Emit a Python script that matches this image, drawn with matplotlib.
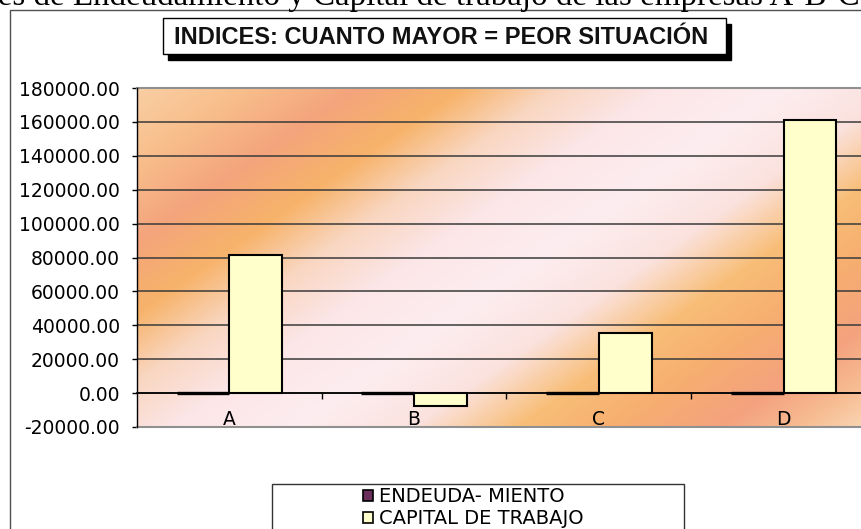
import numpy as np
import matplotlib
matplotlib.use("Agg")
import matplotlib.pyplot as plt
from matplotlib.patches import Rectangle, Patch
from matplotlib.colors import to_rgb

# ---- data ----
categories = ["A", "B", "C", "D"]
endeudamiento = [0.62, 1.35, 0.48, 0.91]
capital_trabajo = [81500, -7900, 35700, 161000]
series_labels = ["ENDEUDA- MIENTO", "CAPITAL DE TRABAJO"]
y_ticks = list(range(-20000, 180001, 20000))
chart_title = "Índices de Endeudamiento y Capital de trabajo de las empresas A-B-C-D"
box_title = "INDICES: CUANTO MAYOR = PEOR SITUACIÓN"

W, H = 862, 529
fig = plt.figure(figsize=(W / 100, H / 100), dpi=100)
fig.patch.set_facecolor("white")

def fx(px):
    return px / W

def fy(py):
    return 1 - py / H

# plot area
L, R, T, B = 137, 876, 88, 427
ax = fig.add_axes([fx(L), fy(B), (R - L) / W, (B - T) / H])

# gradient background (style only)
xs = np.arange(R - L) + 0.5
ys = np.arange(B - T) + 0.5
X, Y = np.meshgrid(xs, ys)
t = 0.57 * X + 0.82 * Y
stops = [(0, "#F9CFA4"), (60, "#F8BF8C"), (125, "#F4A47C"), (185, "#F7B36A"),
         (240, "#F9D6C0"), (300, "#FCE6E8"), (370, "#FDEDF0"), (435, "#FBE2DE"),
         (495, "#F8BE78"), (550, "#F7AE70"), (610, "#F4A27E"), (655, "#F7BC92"),
         (720, "#FBE8CC")]
sp = np.array([s[0] for s in stops], float)
cols = np.array([to_rgb(s[1]) for s in stops])
img = np.dstack([np.interp(t, sp, cols[:, k]) for k in range(3)])
ax.imshow(img, extent=(-0.5, 3.5, -20000, 180000), aspect="auto",
          origin="upper", zorder=0, interpolation="bilinear")

x = np.arange(len(categories))
w = 1 / 3.5
ax.bar(x - w / 2, endeudamiento, w, color="#6B2D5C", edgecolor="black",
       linewidth=2.4, zorder=2)
ax.bar(x + w / 2, capital_trabajo, w, color="#FFFFCC", edgecolor="black",
       linewidth=1.5, zorder=2)

ax.set_xlim(-0.5, 3.5)
ax.set_ylim(-20000, 180000)

ax.set_axisbelow(True)
ax.set_yticks(y_ticks)
ax.set_yticklabels([f"{v:.2f}" for v in y_ticks])
ax.yaxis.grid(True, color="#3a3a3a", linewidth=1.1)
ax.tick_params(axis="y", direction="out", length=3.6, width=1, pad=8.6,
               labelsize=13.5, colors="black")
for lab in ax.get_yticklabels():
    lab.set_family("DejaVu Sans")

ax.axhline(180000, color="#909090", linewidth=1.5, zorder=0.7, clip_on=False)
ax.axhline(-20000, color="#909090", linewidth=1.5, zorder=0.7, clip_on=False)

ax.spines["top"].set_visible(False)
ax.spines["right"].set_visible(False)
ax.spines["left"].set_color("black")
ax.spines["left"].set_linewidth(1.0)
ax.spines["bottom"].set_position(("data", 0))
ax.spines["bottom"].set_color("black")
ax.spines["bottom"].set_linewidth(1.2)
ax.spines["bottom"].set_zorder(1.5)

ax.set_xticks([0.5, 1.5, 2.5])
ax.set_xticklabels([])
ax.set_xticks(x, minor=True)
ax.set_xticklabels(categories, minor=True)
ax.tick_params(axis="x", which="major", direction="out", length=4.3, width=1,
               colors="black")
ax.tick_params(axis="x", which="minor", length=0, pad=12, labelsize=13.5)

# outer frame
fig.add_artist(Rectangle((fx(10), -0.1), 1.2, fy(10) + 0.1, transform=fig.transFigure,
                         fill=False, edgecolor="#505050", linewidth=1.0))

# top (cut) title
fig.text(fx(-70), fy(5), chart_title, family="Liberation Serif", fontsize=23.75,
         ha="left", va="baseline", color="black")

# title box with shadow
bx0, bx1, by0, by1 = 163, 726, 18, 54
fig.add_artist(Rectangle((fx(bx0 + 5), fy(by1 + 6)), (bx1 - bx0) / W, (by1 - by0) / H,
                         transform=fig.transFigure, facecolor="black", edgecolor="black"))
fig.add_artist(Rectangle((fx(bx0), fy(by1)), (bx1 - bx0) / W, (by1 - by0) / H,
                         transform=fig.transFigure, facecolor="white", edgecolor="black",
                         linewidth=1.0))
fig.text(fx(441), fy(44.5), box_title, family="Liberation Sans", weight="bold",
         fontsize=17, ha="center", va="baseline", color="#111111")

# legend
fig.add_artist(Rectangle((fx(272), fy(545)), (684 - 272) / W, (545 - 484) / H,
                         transform=fig.transFigure, facecolor="white", edgecolor="#333333",
                         linewidth=1.0))
handles = [Patch(facecolor="#6B2D5C", edgecolor="black", linewidth=1.2),
           Patch(facecolor="#FFFFCC", edgecolor="black", linewidth=1.2)]
fig.legend(handles, series_labels, loc="upper left", bbox_to_anchor=(fx(363), fy(487)),
           frameon=False, borderpad=0, borderaxespad=0,
           handlelength=0.5, handleheight=0.5, handletextpad=0.3, labelspacing=0.18,
           prop={"family": "DejaVu Sans", "size": 14})

fig.savefig("out.png", dpi=100)
